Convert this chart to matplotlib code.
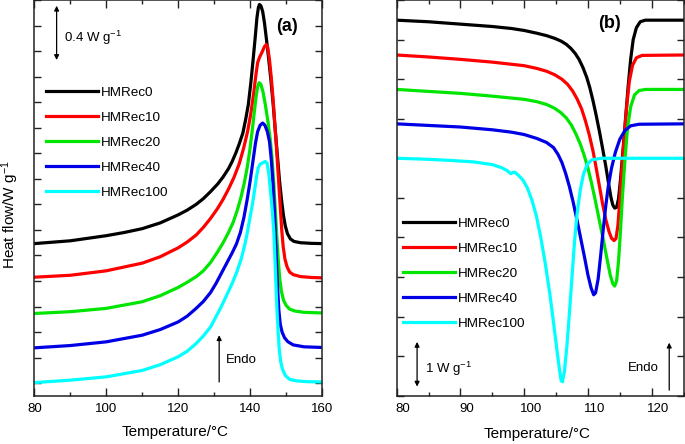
import matplotlib
matplotlib.use("Agg")
import matplotlib.pyplot as plt
import matplotlib.transforms as mtransforms
from matplotlib.ticker import MultipleLocator

plt.rcParams['font.family'] = ['Liberation Sans', 'DejaVu Sans']
plt.rcParams['mathtext.fontset'] = 'custom'
plt.rcParams['mathtext.rm'] = 'Liberation Sans'
plt.rcParams['mathtext.it'] = 'Liberation Sans:italic'
plt.rcParams['mathtext.bf'] = 'Liberation Sans:bold'

labels = ['HMRec0', 'HMRec10', 'HMRec20', 'HMRec40', 'HMRec100']
colors = ['#000000', '#ff0000', '#00e600', '#0000e6', '#00ffff']

# ---- Panel (a): heating (melting) curves, W/g (offset) ----
a0_T = [80, 90, 100, 105, 110, 115, 120, 122.5, 125, 127, 129, 131, 132.5, 134, 135, 136, 137, 138,
        138.8, 139.5, 140.2, 140.8, 141.4, 141.9, 142.3, 142.6, 143.0, 143.5, 144.0, 144.6, 145.2,
        145.8, 146.4, 147.0, 147.6, 148.2, 148.8, 149.3, 149.8, 150.4, 151.2, 152.2, 154, 157, 160]
a0_Y = [1.093, 1.115, 1.155, 1.18, 1.21, 1.255, 1.318, 1.355, 1.40, 1.445, 1.50, 1.56, 1.615, 1.68,
        1.735, 1.80, 1.875, 1.96, 2.07, 2.18, 2.35, 2.52, 2.70, 2.86, 2.94, 2.965, 2.955, 2.91, 2.82,
        2.68, 2.53, 2.37, 2.19, 1.98, 1.78, 1.58, 1.42, 1.31, 1.23, 1.17, 1.13, 1.11, 1.10, 1.095,
        1.093]

a1_T = [80, 90, 100, 110, 115, 120, 122.5, 125, 127, 129, 131, 132.5, 134, 135.5, 137, 138.2, 139.3,
        140.2, 141.0, 141.6, 142.1, 142.6, 143.3, 144.0, 144.5, 144.9, 145.4, 145.9, 146.4, 146.9,
        147.4, 147.9, 148.4, 148.8, 149.2, 149.7, 150.3, 151, 152, 154, 157, 160]
a1_Y = [0.83, 0.845, 0.88, 0.94, 0.99, 1.06, 1.105, 1.16, 1.22, 1.29, 1.37, 1.44, 1.52, 1.61, 1.72,
        1.84, 1.97, 2.11, 2.27, 2.41, 2.51, 2.55, 2.59, 2.635, 2.651, 2.63, 2.53, 2.39, 2.22, 2.02,
        1.82, 1.60, 1.38, 1.20, 1.07, 0.97, 0.91, 0.87, 0.85, 0.835, 0.828, 0.825]

a2_T = [80, 90, 100, 110, 115, 120, 122.5, 125, 127, 129, 131, 132.5, 134, 135.3, 136.5, 137.5, 138.4,
        139.2, 139.9, 140.6, 141.2, 141.7, 142.1, 142.5, 143.0, 143.6, 144.3, 145.0, 145.6, 146.1,
        146.6, 147.0, 147.4, 147.8, 148.2, 148.7, 149.3, 150, 151, 152.5, 155, 160]
a2_Y = [0.546, 0.56, 0.586, 0.638, 0.685, 0.75, 0.79, 0.834, 0.88, 0.945, 1.03, 1.10, 1.18, 1.26,
        1.36, 1.46, 1.57, 1.69, 1.82, 1.98, 2.13, 2.25, 2.32, 2.353, 2.34, 2.28, 2.17, 2.04, 1.91,
        1.76, 1.56, 1.36, 1.16, 0.98, 0.83, 0.72, 0.65, 0.61, 0.58, 0.565, 0.555, 0.55]

a3_T = [80, 90, 100, 110, 115, 120, 122.5, 125, 127, 129, 130.5, 132, 133.5, 135, 136.2, 137.3, 138.3,
        139.2, 140, 140.8, 141.5, 142.1, 142.8, 143.5, 144.1, 144.8, 145.4, 145.9, 146.4, 146.8,
        147.1, 147.4, 147.7, 148.0, 148.4, 148.9, 149.6, 150.5, 152, 155, 160]
a3_Y = [0.277, 0.295, 0.324, 0.376, 0.42, 0.48, 0.525, 0.586, 0.64, 0.71, 0.78, 0.86, 0.94, 1.02,
        1.09, 1.18, 1.30, 1.44, 1.58, 1.74, 1.88, 1.97, 2.02, 2.037, 2.02, 1.97, 1.89, 1.75, 1.55,
        1.33, 1.12, 0.91, 0.72, 0.57, 0.46, 0.40, 0.355, 0.325, 0.30, 0.285, 0.28]

a4_T = [80, 90, 100, 110, 115, 120, 122.5, 125, 127, 129, 130.5, 132, 133.5, 135, 136.3, 137.5, 138.5,
        139.3, 140.0, 140.7, 141.3, 141.8, 142.3, 142.8, 143.5, 144.2, 144.7, 145.2, 145.7, 146.2,
        146.6, 146.9, 147.2, 147.5, 147.8, 148.1, 148.5, 149.0, 149.8, 151, 153, 156, 160]
a4_Y = [0.005, 0.024, 0.05, 0.10, 0.145, 0.207, 0.25, 0.311, 0.37, 0.44, 0.52, 0.60, 0.69, 0.78,
        0.87, 0.97, 1.08, 1.19, 1.30, 1.41, 1.52, 1.62, 1.69, 1.715, 1.725, 1.736, 1.725, 1.64,
        1.50, 1.34, 1.18, 0.98, 0.76, 0.56, 0.40, 0.27, 0.17, 0.11, 0.06, 0.03, 0.018, 0.012, 0.01]

# ---- Panel (b): cooling (crystallization) curves, W/g (offset) ----
b0_T = [80, 85, 90, 95, 98, 100, 102, 103.5, 104.8, 105.8, 106.6, 107.3, 108.0, 108.6, 109.2, 109.8,
        110.3, 110.8, 111.3, 111.8, 112.3, 112.8, 113.2, 113.6, 113.9, 114.2, 114.5, 114.8, 115.1,
        115.5, 115.9, 116.3, 116.7, 117.1, 117.6, 118.2, 119, 125]
b0_Y = [9.49, 9.45, 9.39, 9.33, 9.28, 9.23, 9.16, 9.1, 9.03, 8.96, 8.88, 8.78, 8.65, 8.5, 8.3, 8.05,
        7.78, 7.45, 7.08, 6.68, 6.25, 5.8, 5.40, 5.02, 4.82, 4.74, 4.76, 4.98, 5.45, 6.2, 7.0, 7.8,
        8.5, 9.0, 9.3, 9.45, 9.49, 9.49]

b1_T = [80, 85, 90, 95, 100, 102, 103.5, 104.8, 105.9, 106.8, 107.6, 108.3, 109.0, 109.6, 110.2,
        110.8, 111.3, 111.8, 112.3, 112.8, 113.3, 113.7, 114.1, 114.4, 114.7, 115.0, 115.3, 115.7,
        116.1, 116.5, 117.0, 117.6, 118.5, 125]
b1_Y = [8.61, 8.56, 8.5, 8.43, 8.34, 8.27, 8.2, 8.11, 8.0, 7.87, 7.7, 7.5, 7.25, 6.95, 6.6, 6.18,
        5.75, 5.3, 4.85, 4.45, 4.15, 3.98, 3.92, 3.97, 4.3, 4.95, 5.7, 6.55, 7.35, 7.95, 8.35, 8.54,
        8.6, 8.61]

b2_T = [80, 85, 90, 95, 100, 102, 103.5, 104.7, 105.7, 106.6, 107.4, 108.1, 108.8, 109.4, 110.0,
        110.6, 111.2, 111.8, 112.4, 113.0, 113.5, 113.9, 114.2, 114.5, 114.8, 115.1, 115.4, 115.8,
        116.2, 116.7, 117.3, 118.0, 119, 125]
b2_Y = [7.74, 7.69, 7.64, 7.57, 7.49, 7.43, 7.36, 7.27, 7.16, 7.02, 6.84, 6.62, 6.36, 6.08, 5.75,
        5.35, 4.9, 4.42, 3.95, 3.45, 3.05, 2.83, 2.77, 2.9, 3.4, 4.15, 5.0, 5.95, 6.75, 7.3, 7.6,
        7.71, 7.74, 7.74]

b3_T = [80, 85, 90, 95, 98, 100, 102, 103.5, 104.6, 105.3, 105.9, 106.5, 107.1, 107.7, 108.3, 108.9,
        109.5, 110.0, 110.5, 110.9, 111.2, 111.6, 112.0, 112.4, 112.8, 113.2, 113.7, 114.3, 115.0,
        115.8, 116.7, 118, 125]
b3_Y = [6.87, 6.83, 6.79, 6.72, 6.66, 6.6, 6.5, 6.4, 6.27, 6.1, 5.9, 5.62, 5.28, 4.88, 4.43, 3.95,
        3.47, 3.05, 2.72, 2.55, 2.6, 2.95, 3.55, 4.2, 4.8, 5.3, 5.75, 6.15, 6.48, 6.7, 6.82, 6.86,
        6.87]

b4_T = [80, 84, 88, 92, 95, 96.5, 97.4, 97.9, 98.2, 98.5, 99.1, 99.8, 100.5, 101.2, 101.9, 102.6,
        103.3, 104.0, 104.6, 105.1, 105.5, 105.8, 106.0, 106.3, 106.7, 107.1, 107.5, 107.9, 108.3,
        108.8, 109.3, 109.9, 110.6, 112, 125]
b4_Y = [6.0, 5.98, 5.95, 5.91, 5.84, 5.76, 5.68, 5.61, 5.64, 5.65, 5.57, 5.45, 5.25, 4.95, 4.55,
        4.0, 3.35, 2.6, 1.85, 1.2, 0.7, 0.38, 0.35, 0.6, 1.25, 2.1, 3.0, 3.9, 4.6, 5.2, 5.6, 5.85,
        5.96, 6.0, 6.0]

a_T = [a0_T, a1_T, a2_T, a3_T, a4_T]
a_Y = [a0_Y, a1_Y, a2_Y, a3_Y, a4_Y]
b_T = [b0_T, b1_T, b2_T, b3_T, b4_T]
b_Y = [b0_Y, b1_Y, b2_Y, b3_Y, b4_Y]

fig = plt.figure(figsize=(6.85, 4.44), dpi=100)
axA = fig.add_axes([0.0501, 0.1081, 0.4200, 0.8919])
axB = fig.add_axes([0.5791, 0.1088, 0.4188, 0.8912])

lw = 2.3
for T, Y, c, l in zip(a_T, a_Y, colors, labels):
    axA.plot(T, Y, color=c, lw=lw, label=l, solid_joinstyle='round')
for T, Y, c, l in zip(b_T, b_Y, colors, labels):
    axB.plot(T, Y, color=c, lw=lw, label=l, solid_joinstyle='round')

spine_c = '#222222'
for ax in (axA, axB):
    for s in ax.spines.values():
        s.set_linewidth(1.1)
        s.set_color(spine_c)
    ax.tick_params(axis='both', which='both', direction='in', top=True, right=True,
                   labelleft=False, color=spine_c, width=1.0, labelsize=9.5, pad=5)
    ax.tick_params(axis='x', which='major', length=5.5)
    ax.tick_params(axis='x', which='minor', length=3)
    ax.tick_params(axis='y', which='both', length=5)

axA.set_xlim(80, 160)
axA.set_ylim(-0.1, 3.0)
axA.xaxis.set_major_locator(MultipleLocator(20))
axA.xaxis.set_minor_locator(MultipleLocator(10))
axA.yaxis.set_major_locator(MultipleLocator(0.2))

axB.set_xlim(80, 125)
axB.set_ylim(0, 10)
axB.xaxis.set_major_locator(MultipleLocator(10))
axB.xaxis.set_minor_locator(MultipleLocator(5))
axB.yaxis.set_major_locator(MultipleLocator(1))
shift = mtransforms.ScaledTranslation(6.5 / 100, 0, fig.dpi_scale_trans)
for lab in axB.get_xticklabels():
    lab.set_transform(lab.get_transform() + shift)

axA.set_xlabel('Temperature/°C', fontsize=11)
axB.set_xlabel('Temperature/°C', fontsize=11)
axA.xaxis.set_label_coords(0.489, -0.072)
axB.xaxis.set_label_coords(0.488, -0.079)
axA.set_ylabel('Heat flow/W g$^{-1}$', fontsize=11)
axA.yaxis.set_label_coords(-0.048, 0.457)

axA.text(0.877, 0.9326, '(a)', transform=axA.transAxes, fontsize=13, fontweight='bold',
         ha='center', va='center')
axB.text(0.743, 0.941, '(b)', transform=axB.transAxes, fontsize=13, fontweight='bold',
         ha='center', va='center')

arrow2 = dict(arrowstyle='<|-|>', lw=0.9, color='black', mutation_scale=7, shrinkA=0, shrinkB=0)
arrow1 = dict(arrowstyle='-|>', lw=0.9, color='black', mutation_scale=7, shrinkA=0, shrinkB=0)

# scale bar and endo arrow, panel (a)
axA.annotate('', xy=(86.2, 2.955), xytext=(86.2, 2.53), arrowprops=arrow2)
axA.text(88.3, 2.70, '0.4 W g$^{-1}$', fontsize=9.5, ha='left', va='center')
axA.annotate('', xy=(131.4, 0.376), xytext=(131.4, 0.01), arrowprops=arrow1)
axA.text(133.3, 0.18, 'Endo', fontsize=9.5, ha='left', va='center')

# scale bar and endo arrow, panel (b)
axB.annotate('', xy=(83.2, 1.36), xytext=(83.2, 0.23), arrowprops=arrow2)
axB.text(84.4, 0.67, '1 W g$^{-1}$', fontsize=9.5, ha='left', va='center')
axB.annotate('', xy=(122.75, 1.34), xytext=(122.75, 0.14), arrowprops=arrow1)
axB.text(121.1, 0.71, 'Endo', fontsize=9.5, ha='right', va='center')

leg_kw = dict(loc='upper left', frameon=False, handlelength=3.9, handletextpad=0.2,
              labelspacing=0.935, borderpad=0, borderaxespad=0, fontsize=9.7)
axA.legend(bbox_to_anchor=(0.0396, 0.782), **leg_kw)
axB.legend(bbox_to_anchor=(0.021, 0.450), **leg_kw)

fig.savefig('out.png', dpi=100)
